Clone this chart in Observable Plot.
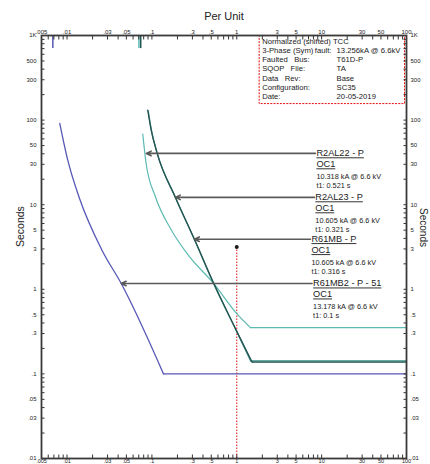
<!DOCTYPE html>
<html><head><meta charset="utf-8">
<script src="https://cdn.jsdelivr.net/npm/d3@7"></script>
<script src="https://cdn.jsdelivr.net/npm/@observablehq/plot@0.6"></script>
<style>
body{margin:0;background:#fff;}
svg text{white-space:pre;}
g[aria-description="ul"] text{text-decoration:underline;}
</style></head><body><div id="chart"></div>
<script>
// ---- axis ticks ----
const xTickValues = [0.005, 0.01, 0.03, 0.05, 0.1, 0.3, 0.5, 1, 3, 5, 10, 30, 50, 100];
const xTickLabels = [".005", ".01", ".03", ".05", ".1", ".3", ".5", "1", "3", "5", "10", "30", "50", "100"];
const yTickValues = [0.01, 0.03, 0.05, 0.1, 0.3, 0.5, 1, 3, 5, 10, 30, 50, 100, 300, 500, 1000];
const yTickLabels = [".01", ".03", ".05", ".1", ".3", ".5", "1", "3", "5", "10", "30", "50", "100", "300", "500", "1K"];

// ---- curves (per unit, seconds); last point = definite-time floor to 100 pu ----
const blueX  = [0.00821, 0.0102, 0.014, 0.0258, 0.0435, 0.137, 100];
const blueT  = [91.4, 33.6, 11.9, 2.9, 1.17, 0.1, 0.1];
const lightX = [0.078, 0.0855, 0.110, 0.170, 0.279, 0.531, 1.0, 1.449, 100];
const lightT = [68.2, 30.7, 12.4, 4.99, 2.41, 1.18, 0.515, 0.352, 0.352];
const darkAX = [0.0893, 0.098, 0.1153, 0.189, 0.317, 0.531, 1.0, 1.516, 100];
const darkAT = [131, 76.2, 40.4, 12.2, 3.91, 1.2, 0.318, 0.138, 0.138];
const darkBX = [0.0905, 0.099, 0.116, 0.19, 0.318, 0.53, 1.0, 1.46, 100];
const darkBT = [128, 75, 40, 12.1, 3.85, 1.18, 0.316, 0.142, 0.142];

// ---- short markers at top ----
const markerX = [0.0068, 0.0703, 0.0738];
const markerColor = ["#5757b8", "#5bbab2", "#23524f"];
const markerTop = 1000, markerBottom = 700;

// ---- fault reference ----
const faultPU = 1;
const faultDotT = 3.16;

// ---- device labels ----
const labelNames = ["R2AL22 - P", "R2AL23 - P", "R61MB - P", "R61MB2 - P - 51"];
const labelSub = ["OC1", "OC1", "OC1", "OC1"];
const labelFault = ["10.318 kA @ 6.6 kV", "10.605 kA @ 6.6 kV", "10.605 kA @ 6.6 kV", "13.178 kA @ 6.6 kV"];
const labelT1 = ["t1: 0.521 s", "t1: 0.321 s", "t1: 0.316 s", "t1: 0.1 s"];
const arrowT = [40.4, 12.2, 3.91, 1.17];
const arrowFrom = [8.44, 8.21, 7.38, 7.72];
const arrowTo = [0.086, 0.189, 0.317, 0.0435];

// ---- info box ----
const infoLeft = ["Normalized (shifted) TCC", "3-Phase (Sym)", "Faulted   Bus:", "SQOP   File:", "Data   Rev:", "Configuration:", "Date:"];
const infoMid = ["", "fault:"];
const infoRight = ["", "13.256kA @ 6.6kV", "T61D-P", "TA", "Base", "SC35", "20-05-2019"];
const infoBoxPU = [1.86, 96];
const infoBoxSec = [154.6, 985];
const infoTextPU = [1.99, 8.3, 15.0];

// ---- build tables ----
function rows(xs, ts) { return xs.map((x, i) => ({x, t: ts[i]})); }
const curves = [
  {r: rows(lightX, lightT), c: "#5bbab2", w: 1.2},
  {r: rows(darkBX, darkBT), c: "#3d8f89", w: 1.3},
  {r: rows(darkAX, darkAT), c: "#23524f", w: 1.3},
  {r: rows(blueX, blueT), c: "#5757b8", w: 1.3}
];
const xAll = [];
for (let e = -3; e <= 2; e++) for (let k = 1; k <= 9; k++) { const v = +(k * 10 ** e).toPrecision(3); if (v >= 0.005 && v <= 100) xAll.push(v); }
const yAll = [];
for (let e = -2; e <= 3; e++) for (let k = 1; k <= 9; k++) { const v = +(k * 10 ** e).toPrecision(3); if (v >= 0.01 && v <= 1000) yAll.push(v); }
const labels = labelNames.map((n, i) => ({name: n, sub: labelSub[i], fault: labelFault[i], t1: labelT1[i], t: arrowT[i], from: arrowFrom[i], to: arrowTo[i]}));
const markers = markerX.map((x, i) => ({x, c: markerColor[i]}));

const curveMarks = curves.flatMap(s => [
  Plot.line(s.r.slice(0, -1), {x: "x", y: "t", stroke: s.c, strokeWidth: s.w, curve: "monotone-x"}),
  Plot.line(s.r.slice(-2), {x: "x", y: "t", stroke: s.c, strokeWidth: s.w})
]);

const tickStroke = "#333";
const chart = Plot.plot({
  width: 430, height: 464,
  marginTop: 35, marginBottom: 6, marginLeft: 41, marginRight: 24,
  x: {type: "log", domain: [0.005, 100]},
  y: {type: "log", domain: [0.01, 1000]},
  style: {fontFamily: "'Liberation Sans', Arial, sans-serif", fontSize: "10px", background: "#fff", color: "#222", overflow: "visible"},
  marks: [
    // red fault line
    Plot.ruleX([faultPU], {x: d => d, y1: 0.01, y2: faultDotT, stroke: "#e01010", strokeWidth: 1, strokeDasharray: "1.5,1.5"}),
    Plot.dot([faultPU], {x: d => d, y: () => faultDotT, r: 2, fill: "#1a1a1a"}),
    // curves
    ...curveMarks,
    // top markers
    Plot.ruleX(markers, {x: "x", y1: () => markerTop, y2: () => markerBottom, stroke: "c", strokeWidth: 1.5}),
    // arrows
    Plot.arrow(labels, {x1: "from", x2: "to", y1: "t", y2: "t", stroke: "#5a5a5a", strokeWidth: 1.6, headLength: 5, headAngle: 50}),
    Plot.text(labels, {x: "from", y: "t", text: "name", textAnchor: "start", dx: 1, fontSize: 9.2, fill: "#222", ariaDescription: "ul"}),
    Plot.text(labels, {x: "from", y: "t", text: "sub", textAnchor: "start", dx: 1, dy: 11, fontSize: 9.2, fill: "#222", ariaDescription: "ul"}),
    Plot.text(labels, {x: "from", y: "t", text: "fault", textAnchor: "start", dx: 1, dy: 23, fontSize: 7.3, fill: "#222"}),
    Plot.text(labels, {x: "from", y: "t", text: "t1", textAnchor: "start", dx: 1, dy: 32, fontSize: 7.3, fill: "#222"}),
    // info box
    Plot.rect([0], {x1: () => infoBoxPU[0], x2: () => infoBoxPU[1], y1: () => infoBoxSec[0], y2: () => infoBoxSec[1], fill: "#fff", stroke: "#e01010", strokeWidth: 1, strokeDasharray: "2,1.2"}),
    Plot.text([infoLeft.join("\n")], {x: () => infoTextPU[0], y: () => infoBoxSec[1], text: d => d, textAnchor: "start", lineAnchor: "top", lineHeight: 1.2, dy: 1, fontSize: 7.7, fill: "#222"}),
    Plot.text([infoMid.join("\n")], {x: () => infoTextPU[1], y: () => infoBoxSec[1], text: d => d, textAnchor: "start", lineAnchor: "top", lineHeight: 1.2, dy: 1, fontSize: 7.7, fill: "#222"}),
    Plot.text([infoRight.join("\n")], {x: () => infoTextPU[2], y: () => infoBoxSec[1], text: d => d, textAnchor: "start", lineAnchor: "top", lineHeight: 1.2, dy: 1, fontSize: 7.7, fill: "#222"}),
    // axes: inward ticks
    Plot.axisX({anchor: "top", ticks: xAll, tickSize: -3.5, tickFormat: () => "", label: null, stroke: tickStroke}),
    Plot.axisX({anchor: "bottom", ticks: xAll, tickSize: -3.5, tickFormat: () => "", label: null, stroke: tickStroke}),
    Plot.axisY({anchor: "left", ticks: yAll, tickSize: -3.5, tickFormat: () => "", label: null, stroke: tickStroke}),
    Plot.axisY({anchor: "right", ticks: yAll, tickSize: -3.5, tickFormat: () => "", label: null, stroke: tickStroke}),
    // tick labels
    Plot.text(xTickValues, {x: d => d, frameAnchor: "top", text: (d, i) => xTickLabels[i], dy: -6, fontSize: 6, fill: "#222"}),
    Plot.text(xTickValues, {x: d => d, frameAnchor: "bottom", text: (d, i) => xTickLabels[i], dy: 4, fontSize: 5.5, fill: "#222"}),
    Plot.text(yTickValues, {y: d => d, frameAnchor: "left", text: (d, i) => yTickLabels[i], textAnchor: "end", dx: -5, fontSize: 6, fill: "#222"}),
    Plot.text(yTickValues, {y: d => d, frameAnchor: "right", text: (d, i) => yTickLabels[i], textAnchor: "start", dx: 4, fontSize: 6, fill: "#222"}),
    Plot.frame({stroke: "#3a3a3a", strokeWidth: 1.8}),
    // axis titles
    Plot.text(["Per Unit"], {frameAnchor: "top", text: d => d, dy: -23, fontSize: 11, fill: "#222"}),
    Plot.text(["Seconds"], {frameAnchor: "left", text: d => d, dx: -21, rotate: -90, fontSize: 10.5, fill: "#222"}),
    Plot.text(["Seconds"], {frameAnchor: "right", text: d => d, dx: 17, rotate: 90, fontSize: 10, fill: "#222"})
  ]
});
document.getElementById("chart").appendChild(chart);
</script></body></html>
